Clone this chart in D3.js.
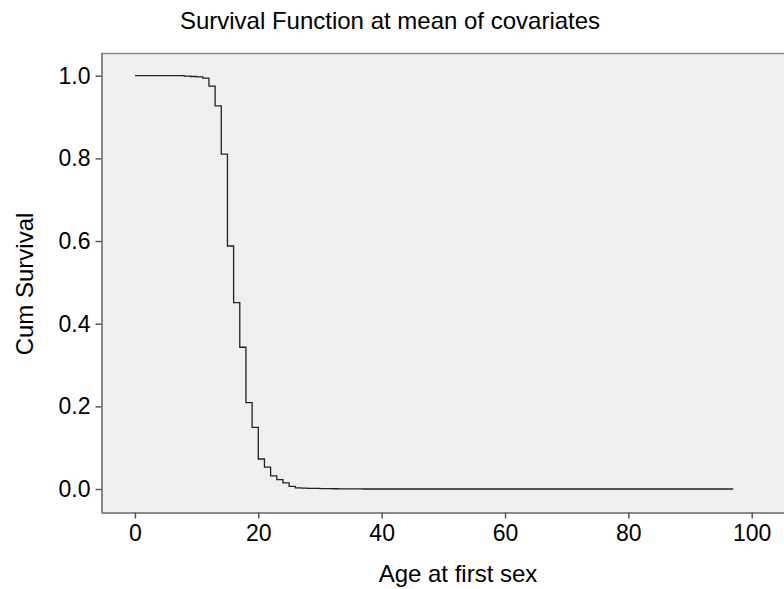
<!DOCTYPE html>
<html>
<head>
<meta charset="utf-8">
<script src="https://cdn.jsdelivr.net/npm/d3@7"></script>
<style>
  body { margin: 0; background: #fff; }
  text { font-family: "Liberation Sans", Arial, sans-serif; fill: #000; }
</style>
</head>
<body>
<div id="graphic"></div>
<script>
// step points of the survival curve (age where the step starts, survival after it)
var ages = [0, 8, 9, 10, 11, 12, 13, 14, 15, 16, 17, 18, 19, 20, 21, 22, 23, 24, 25, 26, 27, 28, 29, 30, 31, 32, 33, 34, 35, 36, 37, 97];
var survival = [1.000, 0.999, 0.998, 0.997, 0.994, 0.975, 0.927, 0.810, 0.588, 0.451, 0.343, 0.209, 0.149, 0.0726, 0.053, 0.032, 0.0225, 0.015, 0.0065, 0.003, 0.0022, 0.0017, 0.0014, 0.0011, 0.0009, 0.0007, 0.0005, 0.0004, 0.0003, 0.0002, 0.0001, 0.0001];

var xTicks = [0, 20, 40, 60, 80, 100];
var yTicks = [0.0, 0.2, 0.4, 0.6, 0.8, 1.0];

var chartTitle = 'Survival Function at mean of covariates';
var xTitle = 'Age at first sex';
var yTitle = 'Cum Survival';

(function() {

  var W = 784, H = 589;
  // plot frame, runs off the right edge like the original
  var left = 101, top = 53, right = 814, bottom = 512;

  var x = d3.scaleLinear().domain([-5.5, 110.1]).range([left, right]);
  var y = d3.scaleLinear().domain([-0.0556, 1.0549]).range([bottom, top]);

  var data = ages.map(function(a, i) { return {age: a, s: survival[i]}; });

  var svg = d3.select('#graphic')
      .append('svg')
      .attr('width', W)
      .attr('height', H);

  // grey plot area
  svg.append('rect')
      .attr('x', left)
      .attr('y', top)
      .attr('width', right - left)
      .attr('height', bottom - top)
      .attr('fill', '#f0f0f0');

  // top border
  svg.append('line')
      .attr('x1', left).attr('x2', right)
      .attr('y1', top + 0.5).attr('y2', top + 0.5)
      .attr('stroke', '#8a8a8a')
      .attr('stroke-width', 1.5);

  // y axis
  var yAxis = svg.append('g')
      .attr('transform', 'translate(' + (left + 0.5) + ',0)')
      .call(d3.axisLeft(y)
        .tickValues(yTicks)
        .tickFormat(d3.format('.1f'))
        .tickSize(6)
        .tickSizeOuter(0)
        .tickPadding(5));

  // x axis
  var xAxis = svg.append('g')
      .attr('transform', 'translate(0,' + (bottom + 0.5) + ')')
      .call(d3.axisBottom(x)
        .tickValues(xTicks)
        .tickSize(6)
        .tickSizeOuter(0)
        .tickPadding(6));

  [yAxis, xAxis].forEach(function(ax) {
    ax.select('.domain').attr('stroke', '#666').attr('stroke-width', 1.5);
    ax.selectAll('.tick line').attr('stroke', '#555').attr('stroke-width', 1.5);
    ax.selectAll('.tick text')
        .style('font-family', '"Liberation Sans", Arial, sans-serif')
        .style('font-size', '23px')
        .attr('fill', '#000');
  });

  // step line
  var line = d3.line()
      .curve(d3.curveStepAfter)
      .x(function(d) { return x(d.age); })
      .y(function(d) { return y(d.s); });

  svg.append('path')
      .datum(data)
      .attr('fill', 'none')
      .attr('stroke', '#222')
      .attr('stroke-width', 1.3)
      .attr('d', line);

  // titles
  svg.append('text')
      .attr('x', 390)
      .attr('y', 29)
      .style('text-anchor', 'middle')
      .style('font-size', '24px')
      .text(chartTitle);

  svg.append('text')
      .attr('x', 458)
      .attr('y', 582)
      .style('text-anchor', 'middle')
      .style('font-size', '24px')
      .text(xTitle);

  svg.append('text')
      .attr('transform', 'translate(33,284) rotate(-90)')
      .style('text-anchor', 'middle')
      .style('font-size', '24px')
      .text(yTitle);

})();
</script>
</body>
</html>
